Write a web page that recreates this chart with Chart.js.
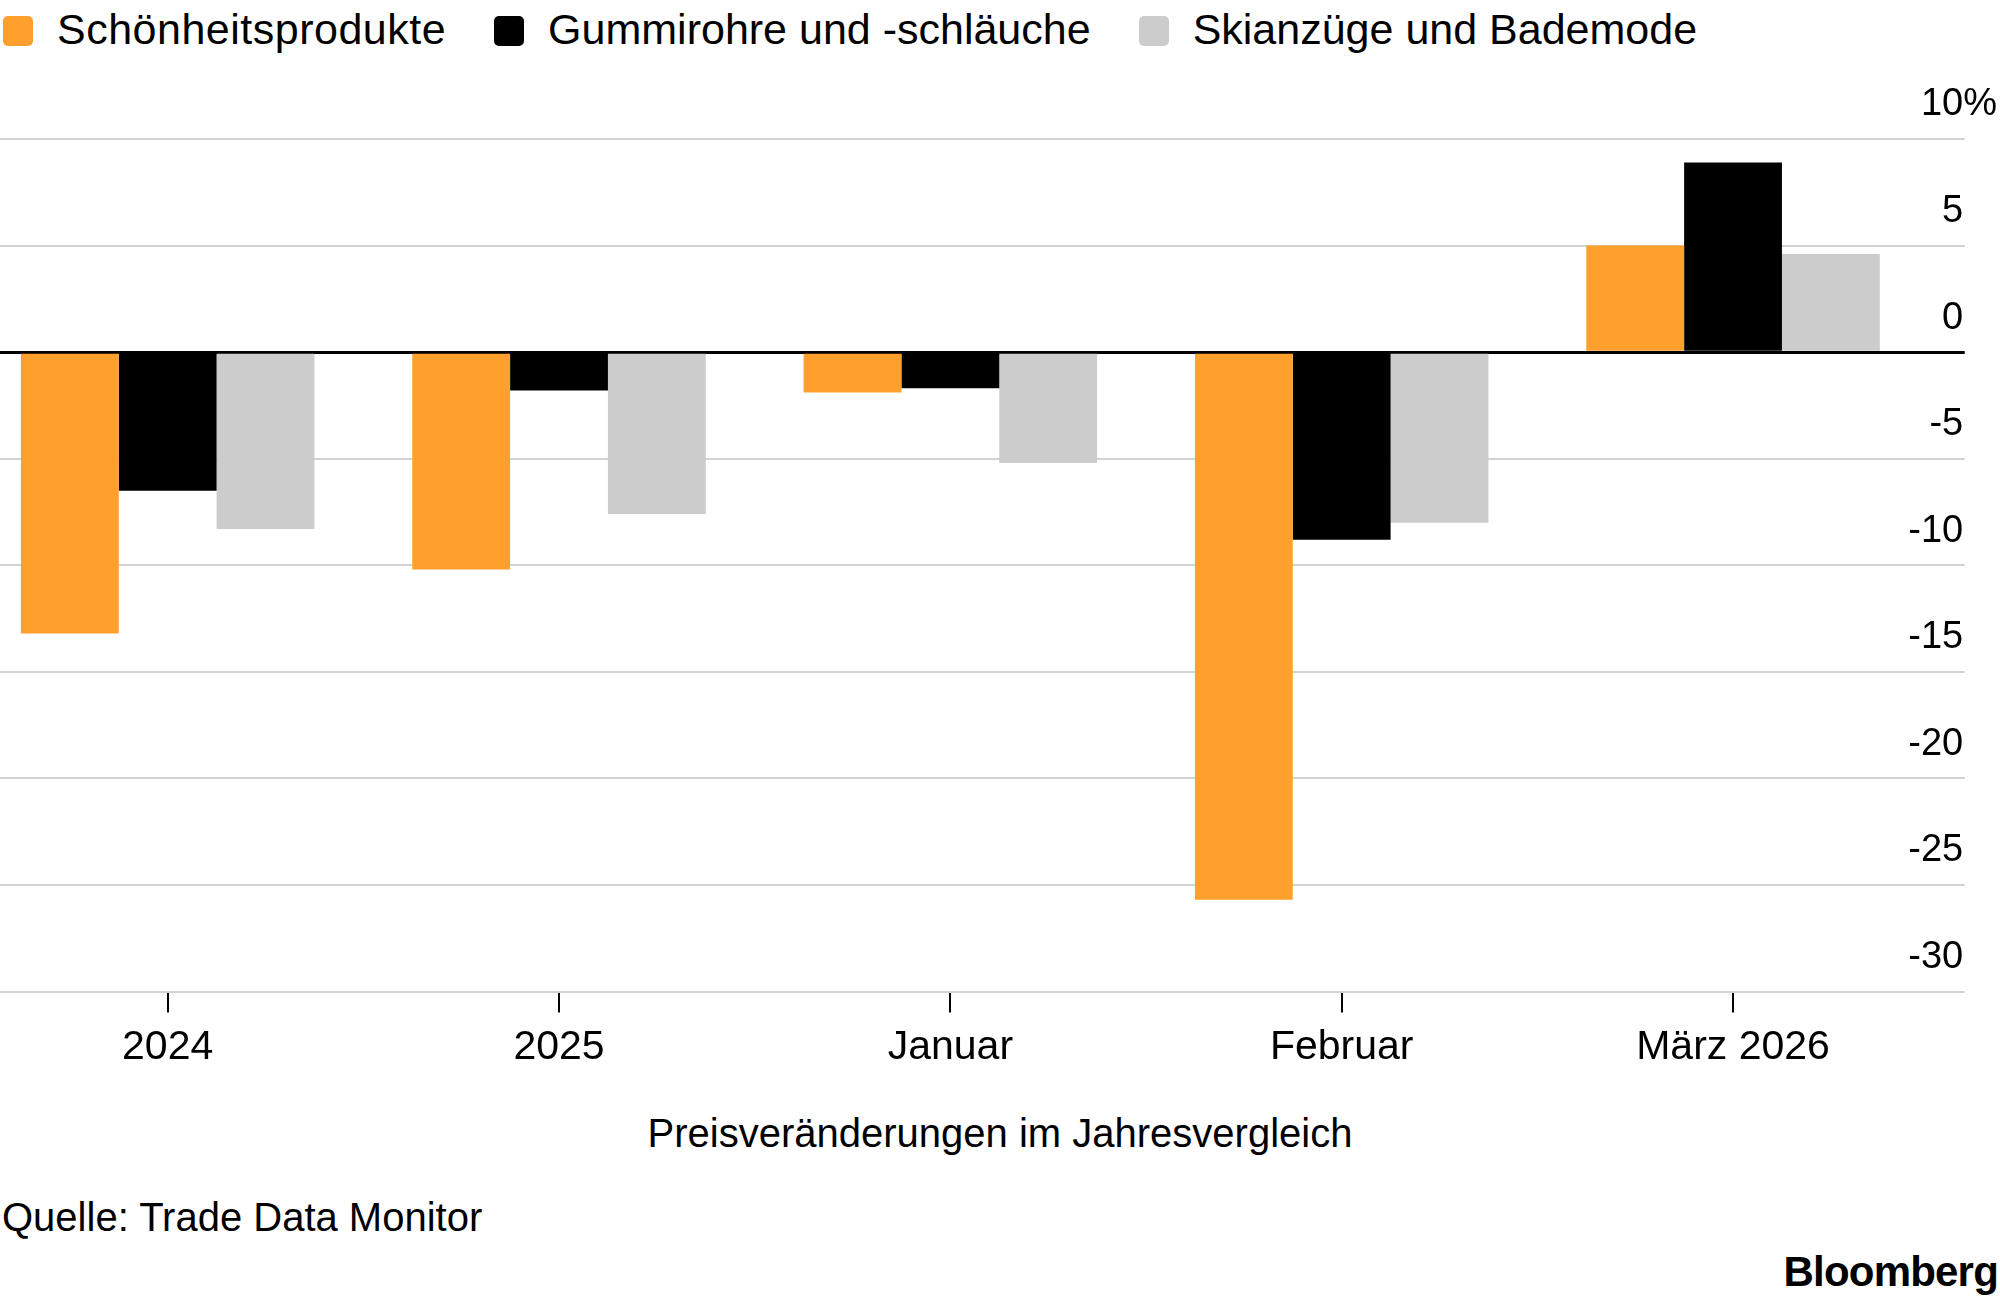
<!DOCTYPE html>
<html lang="de">
<head>
<meta charset="utf-8">
<script src="https://cdn.jsdelivr.net/npm/chart.js@4/dist/chart.umd.min.js"></script>
<style>
  html, body { margin: 0; padding: 0; background: #fff; }
  body { width: 2000px; height: 1300px; position: relative; overflow: hidden;
         font-family: "Liberation Sans", Arial, sans-serif; color: #000; }
  #legend { position: absolute; left: 3px; top: 7px; display: flex; font-size: 43px; line-height: 44px; }
  .item { display: flex; align-items: flex-start; margin-right: 48px; white-space: nowrap; }
  .item:first-child span { letter-spacing: 0.5px; }
  .swatch { width: 30px; height: 30px; border-radius: 5px; margin-top: 9px; margin-right: 24px; }
  #chart { position: absolute; left: -28px; top: 0; }
  .note { position: absolute; font-size: 40px; line-height: 40px; white-space: nowrap; }
  #axisTitle { left: 0; width: 2000px; text-align: center; top: 1113px; }
  #source { left: 2px; top: 1197px; }
  #brand { right: 2px; top: 1251px; font-weight: bold; font-size: 42px; line-height: 42px; letter-spacing: -0.8px; }
</style>
</head>
<body>
<div id="legend"></div>
<canvas id="chart" width="2028" height="1100"></canvas>
<div class="note" id="axisTitle">Preisveränderungen im Jahresvergleich</div>
<div class="note" id="source">Quelle: Trade Data Monitor</div>
<div class="note" id="brand">Bloomberg</div>
<script>
// Year-over-year price change, percent
const categories = ['2024', '2025', 'Januar', 'Februar', 'März 2026'];
const seriesNames = ['Schönheitsprodukte', 'Gummirohre und -schläuche', 'Skianzüge und Bademode'];
const seriesColors = ['#ffa02c', '#000000', '#cccccc'];
const beauty = [-13.2, -10.2, -1.9, -25.7, 5.0];
const rubberHoses = [-6.5, -1.8, -1.7, -8.8, 8.9];
const skiwear = [-8.3, -7.6, -5.2, -8.0, 4.6];
const yTicks = { min: -30, max: 10, step: 5 };

const FONT = '"Liberation Sans", Arial, sans-serif';

// HTML legend built from the series arrays
const legendEl = document.getElementById('legend');
seriesNames.forEach((name, i) => {
  const item = document.createElement('div');
  item.className = 'item';
  const sw = document.createElement('div');
  sw.className = 'swatch';
  sw.style.background = seriesColors[i];
  const label = document.createElement('span');
  label.textContent = name;
  item.append(sw, label);
  legendEl.appendChild(item);
});

// y labels sit above their gridline, right-aligned, with "%" hanging past the top one
const yLabels = {
  id: 'yLabels',
  afterDraw(chart) {
    const { ctx } = chart;
    const y = chart.scales.y;
    const x = y.left + 34.5;
    ctx.save();
    ctx.font = '38px ' + FONT;
    ctx.fillStyle = '#000';
    ctx.textBaseline = 'middle';
    y.ticks.forEach(t => {
      const py = y.getPixelForValue(t.value) - 34;
      ctx.textAlign = 'right';
      ctx.fillText(String(t.value), x, py);
      if (t.value === y.max) {
        ctx.textAlign = 'left';
        ctx.fillText('%', x, py);
      }
    });
    ctx.restore();
  },
};

const datasets = [beauty, rubberHoses, skiwear].map((data, i) => ({
  label: seriesNames[i],
  data,
  backgroundColor: seriesColors[i],
  borderWidth: 0,
  barPercentage: 1,
  categoryPercentage: 0.75,
}));

new Chart(document.getElementById('chart'), {
  type: 'bar',
  data: { labels: categories, datasets },
  plugins: [yLabels],
  options: {
    responsive: false,
    animation: false,
    devicePixelRatio: 1,
    layout: { padding: { top: 139, left: 0, right: 0, bottom: 0 } },
    plugins: { legend: { display: false }, tooltip: { enabled: false } },
    scales: {
      x: {
        border: { display: false },
        grid: { drawOnChartArea: false, offset: false, drawTicks: true, tickLength: 21, color: '#000', lineWidth: 2 },
        ticks: { color: '#000', font: { family: FONT, size: 41 }, padding: 11, maxRotation: 0, autoSkip: false },
        afterFit(scale) { scale.height = 108.5; },
      },
      y: {
        position: 'right',
        min: yTicks.min,
        max: yTicks.max,
        border: { display: false },
        ticks: { stepSize: yTicks.step, display: false },
        grid: {
          drawTicks: true,
          tickLength: 36,
          color: ctx => ctx.tick && ctx.tick.value === 0 ? '#000' : '#d2d2d2',
          lineWidth: ctx => ctx.tick && ctx.tick.value === 0 ? 3 : 2,
        },
        afterFit(scale) { scale.width = 71.3; },
      },
    },
  },
});
</script>
</body>
</html>
